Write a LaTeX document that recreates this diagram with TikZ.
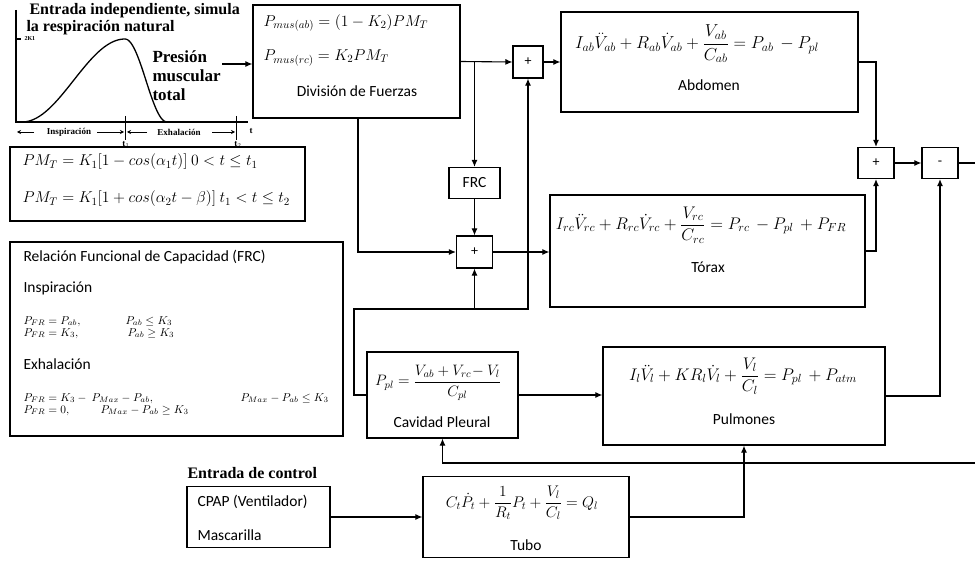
\RequirePackage{fix-cm}
\documentclass[tikz,border=0pt]{standalone}
\usepackage{amsmath}
\usepackage{fontspec}
\setmainfont{Carlito}
\newfontfamily\serifb{Liberation Serif}
\usetikzlibrary{arrows.meta}
\begin{document}
\begin{tikzpicture}[x=1pt,y=-1pt,line width=1.1pt,
  >={Latex[length=7pt,width=6pt]},
  blk/.style={draw,line width=1.2pt,inner sep=0pt,rectangle},
  lbl/.style={inner sep=0pt,font=\fontsize{15.5}{18}\selectfont},
  eq/.style={inner sep=0pt,font=\fontsize{16.8}{19}\selectfont},
  eqs/.style={inner sep=0pt,font=\fontsize{15.7}{19}\selectfont},
  eqf/.style={inner sep=0pt,font=\fontsize{11.4}{13}\selectfont,anchor=base west},
  ttl/.style={inner sep=0pt,anchor=west,font=\serifb\bfseries\fontsize{16}{18}\selectfont},
  tiny/.style={inner sep=0pt,font=\serifb\bfseries\fontsize{9}{10}\selectfont},
  small/.style={->,line width=0.8pt,>={Stealth[length=4pt,width=4pt]}}]
\useasboundingbox (0,0) rectangle (975,564);
\fill[white] (0,0) rectangle (975,564);

% ---------- input graph ----------
\node[ttl] (t1) at (29,11) {Entrada independiente, simula};
\node[ttl] (t2) at (26,28) {la respiración natural};
\draw[line width=1.3pt] (16,10) -- (16,122) -- (248,122);
\draw (16,39) -- (21,39);
\node[inner sep=0pt,anchor=west,font=\serifb\bfseries\fontsize{6}{7}\selectfont] (k1) at (24,39) {2K1};
\draw[line width=1.3pt] plot[domain=22:125,samples=50,smooth] (\x,{122-41.5*(1-cos(1.7476*(\x-22)))})
  -- plot[domain=125:167,samples=30,smooth] (\x,{122-41.5*(1+cos(4.2857*(\x-125)))});
\draw[line width=0.9pt] (125,116) -- (125,140);
\draw[line width=0.9pt] (236,116) -- (236,140);
\draw[small] (34,132) -- (17,132);
\node[tiny] (insp) at (69,132) {Inspiración};
\draw[small] (97,132) -- (124,132);
\draw[small] (147,132) -- (127,132);
\node[tiny] (exh) at (179,132) {Exhalación};
\draw[small] (212,132) -- (235,132);
\node[tiny] (lt1) at (126,144) {t$_1$};
\node[tiny] (lt2) at (238,144) {t$_2$};
\node[tiny] (lt) at (251,131) {t};
\node[inner sep=0pt,anchor=west,align=left,font=\serifb\bfseries\fontsize{17}{19}\selectfont] (pres) at (152,76) {Presión\\muscular\\total};
\coordinate (presA) at (222,64);

% ---------- PM box ----------
\node[blk,minimum width=295pt,minimum height=74pt] (pm) at (157.5,184) {};
\node[eqs,anchor=west] (pm1) at (22,162) {$PM_T = K_1[1-cos(\alpha_1 t)]\ 0< t \le t_1$};
\node[eqs,anchor=west] (pm2) at (22,199) {$PM_T = K_1[1+cos(\alpha_2 t-\beta)]\ t_1< t \le t_2$};

% ---------- FRC relation box ----------
\node[blk,minimum width=333pt,minimum height=194pt] (rel) at (176.5,339) {};
\node[lbl,anchor=west] (rel1) at (23,257) {Relación Funcional de Capacidad (FRC)};
\node[lbl,anchor=west] (rel2) at (23,288) {Inspiración};
\node[eqf] (r1a) at (23,324) {$P_{FR} = P_{ab},$};
\node[eqf] (r1b) at (125,324) {$P_{ab} \le K_3$};
\node[eqf] (r2a) at (23,336) {$P_{FR} = K_3,$};
\node[eqf] (r2b) at (127,336) {$P_{ab} \ge K_3$};
\node[lbl,anchor=west] (rel3) at (23,364) {Exhalación};
\node[eqf] (r3a) at (23,401) {$P_{FR} = K_3 -\ P_{Max} - P_{ab},$};
\node[eqf] (r3b) at (240,401) {$P_{Max} - P_{ab} \le K_3$};
\node[eqf] (r4a) at (23,413) {$P_{FR} = 0,$};
\node[eqf] (r4b) at (100,413) {$P_{Max} - P_{ab} \ge K_3$};

% ---------- blocks ----------
\node[blk,minimum width=207pt,minimum height=113pt] (div) at (356.5,61.5) {};
\node[eqs,anchor=west] (divA) at (263,23) {$P_{mus(ab)} = (1-K_2)PM_T$};
\node[eqs,anchor=west] (divB) at (263,58) {$P_{mus(rc)} = K_2PM_T$};
\node[lbl] (divL) at (357,91) {División de Fuerzas};

\node[blk,minimum width=30pt,minimum height=32pt,font=\fontsize{14}{16}\selectfont] (sumAb) at (528,62) {+};
\node[blk,minimum width=297pt,minimum height=100pt] (abd) at (709.5,62) {};
\node[inner sep=0pt,font=\fontsize{17.3}{20}\selectfont] (abdE) at (697,44) {$I_{ab}\ddot{V}_{ab} + R_{ab}\dot{V}_{ab} + \dfrac{V_{ab}}{C_{ab}} = P_{ab}\, - P_{pl}$};
\node[lbl] (abdL) at (709,85) {Abdomen};

\node[blk,minimum width=51pt,minimum height=31pt] (frc) at (474.5,183) {\fontsize{15.5}{18}\selectfont FRC};
\node[blk,minimum width=36pt,minimum height=32pt,font=\fontsize{14}{16}\selectfont] (sumTx) at (474.5,252) {+};
\node[blk,minimum width=315pt,minimum height=112pt] (tx) at (707.5,251) {};
\node[eq] (txE) at (701,225) {$I_{rc}\ddot{V}_{rc} + R_{rc}\dot{V}_{rc} + \dfrac{V_{rc}}{C_{rc}} = P_{rc}\, - P_{pl}\, + P_{FR}$};
\node[lbl] (txL) at (708,267) {Tórax};

\node[blk,minimum width=36pt,minimum height=31pt,font=\fontsize{14}{16}\selectfont] (sumR) at (876,163) {+};
\node[blk,minimum width=36pt,minimum height=31pt,font=\fontsize{14}{16}\selectfont] (minus) at (940,163) {-};

\node[blk,minimum width=151pt,minimum height=86pt] (pl) at (442.5,395) {};
\node[inner sep=0pt,font=\fontsize{15.1}{18}\selectfont] (plE) at (438,383) {$P_{pl} = \dfrac{V_{ab} + V_{rc}\!- V_l}{C_{pl}}$};
\node[lbl] (plL) at (442,422) {Cavidad Pleural};

\node[blk,minimum width=282pt,minimum height=98pt] (pul) at (744,396) {};
\node[eq] (pulE) at (743,376) {$I_l\ddot{V}_l + KR_l\dot{V}_l + \dfrac{V_l}{C_l} = P_{pl}\, + P_{atm}$};
\node[lbl] (pulL) at (744,419) {Pulmones};

\node[ttl] (ctl) at (187,473) {Entrada de control};
\node[blk,minimum width=143pt,minimum height=61pt] (cpap) at (258.5,517) {};
\node[lbl,anchor=west] (cp1) at (197,502) {CPAP (Ventilador)};
\node[lbl,anchor=west] (cp2) at (197,535) {Mascarilla};

\node[blk,minimum width=206pt,minimum height=81pt] (tubo) at (526,517) {};
\node[inner sep=0pt,font=\fontsize{15.4}{18}\selectfont] (tuE) at (522,503) {$C_t\dot{P}_t + \dfrac{1}{R_t}P_t + \dfrac{V_l}{C_l} = Q_l$};
\node[lbl] (tuL) at (526,545) {Tubo};

% ---------- connectors ----------
\coordinate (fbL) at (354,309);
\coordinate (fbR) at (975,463);
\coordinate (outR) at (975,163);
\draw[->] (presA) -- (div.west |- presA);
\draw[->] (div.east) -- (sumAb.west);
\draw[->] (frc.north |- div.east) -- (frc.north);
\draw[->] ([xshift=1.5pt]div.south) |- (sumTx.west);
\draw[->] (frc.south) -- (sumTx.north);
\draw[->] (sumTx.east) -- (tx.west |- sumTx.east);
\draw[->] (sumAb.east) -- (abd.west);
\draw[->] (abd.east) -| (sumR.north);
\draw[->] (tx.east) -| (sumR.south);
\draw[->] (sumR.east) -- (minus.west);
\draw (minus.east) -- (outR);
\draw[->] (pul.east) -| (minus.south);
\draw[->] (pl.west) -| (fbL) -| (sumAb.south);
\draw[->] (sumTx.south |- fbL) -- (sumTx.south);
\draw[->] (pl.east) -- (pul.west |- pl.east);
\draw[->] (fbR) -| (pl.south);
\draw[->] (cpap.east) -- (tubo.west);
\draw[->] (tubo.east) -| (pul.south);
\end{tikzpicture}
\end{document}
